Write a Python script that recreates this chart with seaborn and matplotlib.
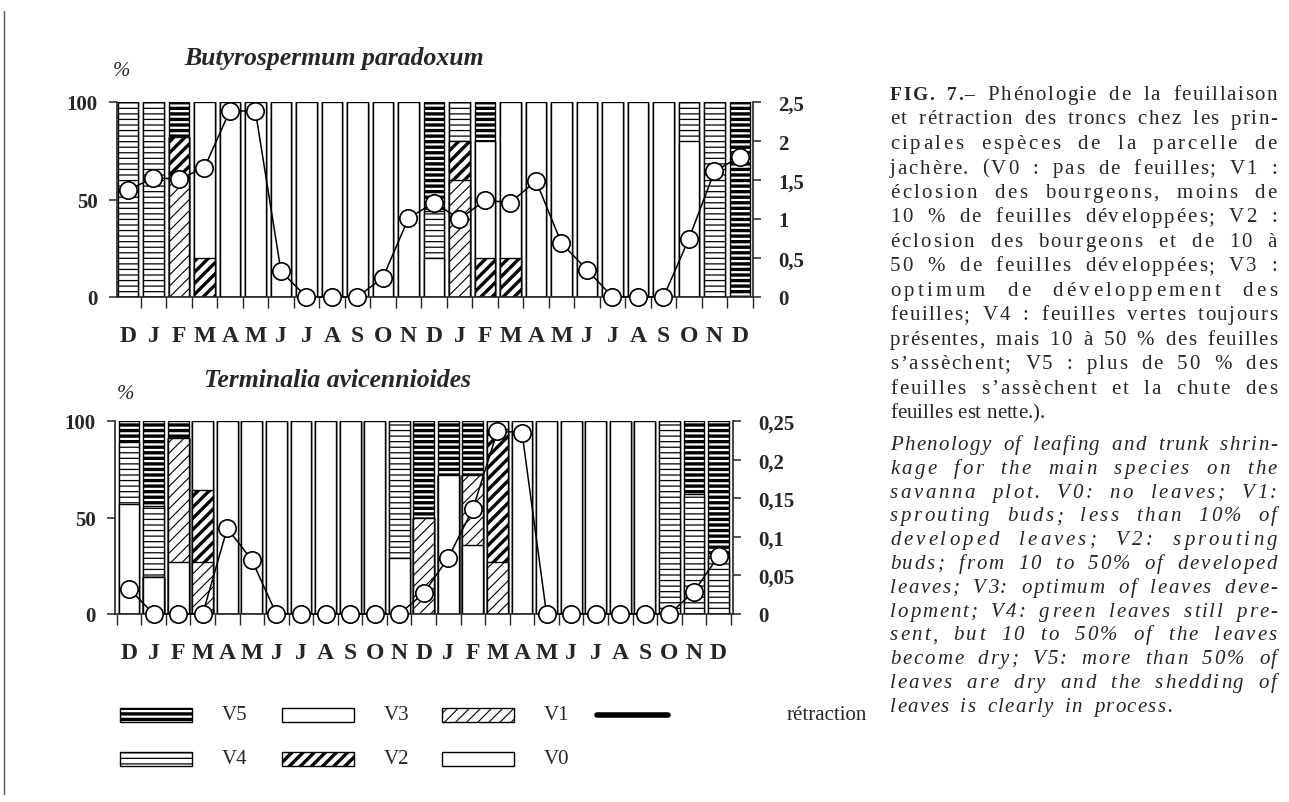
import numpy as np
import pandas as pd
import matplotlib
matplotlib.use("Agg")
import matplotlib.pyplot as plt
import matplotlib.patches as mpatches
from matplotlib.lines import Line2D
from matplotlib.font_manager import FontProperties
import seaborn as sns

sns.set_style("ticks")
plt.rcParams['font.family'] = ['Liberation Serif', 'DejaVu Serif']

# ---------------- data ----------------
months = ["D", "J", "F", "M", "A", "M", "J", "J", "A", "S", "O", "N",
          "D", "J", "F", "M", "A", "M", "J", "J", "A", "S", "O", "N", "D"]

# Butyrospermum paradoxum : % per phenological stage (stacked V0 -> V5)
b_v0 = [0, 0, 0, 0, 0, 0, 0, 0, 0, 0, 0, 0, 0, 0, 0, 0, 0, 0, 0, 0, 0, 0, 0, 0, 0]
b_v1 = [0, 0, 60, 0, 0, 0, 0, 0, 0, 0, 0, 0, 0, 60, 0, 0, 0, 0, 0, 0, 0, 0, 0, 0, 0]
b_v2 = [0, 0, 22, 20, 0, 0, 0, 0, 0, 0, 0, 0, 0, 20, 20, 20, 0, 0, 0, 0, 0, 0, 0, 0, 0]
b_v3 = [0, 0, 0, 80, 100, 100, 100, 100, 100, 100, 100, 100, 20, 0, 60, 80, 100, 100, 100, 100, 100, 100, 80, 0, 0]
b_v4 = [100, 100, 0, 0, 0, 0, 0, 0, 0, 0, 0, 0, 24, 20, 0, 0, 0, 0, 0, 0, 0, 0, 20, 100, 0]
b_v5 = [0, 0, 18, 0, 0, 0, 0, 0, 0, 0, 0, 0, 56, 0, 20, 0, 0, 0, 0, 0, 0, 0, 0, 0, 100]
b_retraction = [1.37, 1.53, 1.51, 1.66, 2.39, 2.38, 0.33, 0.0, 0.0, 0.0, 0.25, 1.01, 1.21,
                1.0, 1.24, 1.21, 1.49, 0.69, 0.35, 0.0, 0.0, 0.0, 0.75, 1.61, 1.80]

# Terminalia avicennioides
t_v0 = [0, 19, 27, 0, 0, 0, 0, 0, 0, 0, 0, 0, 0, 72, 36, 0, 0, 0, 0, 0, 0, 0, 0, 0, 0]
t_v1 = [0, 0, 64, 27, 0, 0, 0, 0, 0, 0, 0, 0, 50, 0, 36, 27, 0, 0, 0, 0, 0, 0, 0, 0, 0]
t_v2 = [0, 0, 0, 37, 0, 0, 0, 0, 0, 0, 0, 0, 0, 0, 0, 69, 0, 0, 0, 0, 0, 0, 0, 0, 0]
t_v3 = [57, 0, 0, 36, 100, 100, 100, 100, 100, 100, 100, 29, 0, 0, 0, 4, 100, 100, 100, 100, 100, 100, 0, 0, 0]
t_v4 = [32, 37, 0, 0, 0, 0, 0, 0, 0, 0, 0, 71, 0, 0, 0, 0, 0, 0, 0, 0, 0, 0, 100, 62, 30]
t_v5 = [11, 44, 9, 0, 0, 0, 0, 0, 0, 0, 0, 0, 50, 28, 28, 0, 0, 0, 0, 0, 0, 0, 0, 38, 70]
t_retraction = [0.033, 0.0, 0.0, 0.0, 0.111, 0.070, 0.0, 0.0, 0.0, 0.0, 0.0, 0.0, 0.027,
                0.073, 0.136, 0.237, 0.235, 0.0, 0.0, 0.0, 0.0, 0.0, 0.0, 0.029, 0.075]

stage_names = ["V0", "V1", "V2", "V3", "V4", "V5"]
left_ticks = [0, 50, 100]
b_right_ticks = [0, 0.5, 1, 1.5, 2, 2.5]
b_right_labels = ["0", "0,5", "1", "1,5", "2", "2,5"]
t_right_ticks = [0, 0.05, 0.1, 0.15, 0.2, 0.25]
t_right_labels = ["0", "0,05", "0,1", "0,15", "0,2", "0,25"]

# ---------------- style ----------------
HATCH = {"V0": "", "V1": "///", "V2": "///", "V3": "", "V4": "---", "V5": "---"}
HLW = {"V0": 1.0, "V1": 0.8, "V2": 2.4, "V3": 1.0, "V4": 0.9, "V5": 2.4}

W, H = 1289, 803
fig = plt.figure(figsize=(W / 100, H / 100), dpi=100)


def rect(l, r, t, b):
    return [l / W, 1 - b / H, (r - l) / W, (b - t) / H]


def panel(ax, layers, retr, rticks, rlabels, rmax, width, xlim):
    arr = np.array(layers, dtype=float)
    cum = np.cumsum(arr, axis=0)
    for k in range(5, -1, -1):
        name = stage_names[k]
        df = pd.DataFrame({"x": np.arange(25), "y": cum[k]})
        with plt.rc_context({"hatch.linewidth": HLW[name], "hatch.color": "black"}):
            sns.barplot(data=df, x="x", y="y", color="white", saturation=1,
                        edgecolor="black", linewidth=1.0, hatch=HATCH[name],
                        width=width, errorbar=None, ax=ax)
    ax.set_ylim(0, 100)
    ax.set_xlim(*xlim)
    ax.set_xlabel("")
    ax.set_ylabel("")
    ax.set_yticks(left_ticks)
    ax.set_yticklabels([str(v) for v in left_ticks], fontsize=15, fontweight="bold")
    ax.tick_params(axis="y", direction="out", length=6, width=1.1, pad=8)
    ax.set_xticks(np.arange(25))
    ax.set_xticklabels(months, fontsize=17, fontweight="bold")
    ax.tick_params(axis="x", which="major", length=0, pad=20)
    ax.set_xticks(np.arange(-0.5, 25, 1), minor=True)
    ax.tick_params(axis="x", which="minor", direction="out", length=8, width=1.0)
    for s in ["top", "right"]:
        ax.spines[s].set_visible(False)
    for s in ["left", "bottom"]:
        ax.spines[s].set_linewidth(1.2)

    axr = ax.twinx()
    sns.lineplot(x=np.arange(25), y=retr, ax=axr, color="black", linewidth=1.1,
                 marker="o", markersize=12.5, markerfacecolor="white",
                 markeredgecolor="black", markeredgewidth=1.2, clip_on=False,
                 legend=False)
    axr.set_ylim(0, rmax)
    axr.set_xlim(*xlim)
    axr.set_ylabel("")
    axr.set_yticks(rticks)
    axr.set_yticklabels(rlabels, fontsize=15, fontweight="bold")
    axr.tick_params(axis="y", direction="out", length=6, width=1.1, pad=12)
    for s in ["top", "left", "bottom"]:
        axr.spines[s].set_visible(False)
    axr.spines["right"].set_linewidth(1.2)
    return axr


ax1 = fig.add_axes(rect(117, 753, 103, 298))
panel(ax1, [b_v0, b_v1, b_v2, b_v3, b_v4, b_v5], b_retraction,
      b_right_ticks, b_right_labels, 2.5, 0.8, (-0.43, 24.51))

ax2 = fig.add_axes(rect(115, 733, 422, 615))
panel(ax2, [t_v0, t_v1, t_v2, t_v3, t_v4, t_v5], t_retraction,
      t_right_ticks, t_right_labels, 0.25, 0.85, (-0.57, 24.59))

# titles
fig.text(334 / W, 1 - 59 / H, "Butyrospermum paradoxum", ha="center", va="center",
         fontsize=18.5, fontweight="bold", style="italic")
fig.text(121 / W, 1 - 72 / H, "%", ha="center", va="center", fontsize=15, style="italic")
fig.text(337 / W, 1 - 381 / H, "Terminalia avicennioides", ha="center", va="center",
         fontsize=18.5, fontweight="bold", style="italic")
fig.text(125 / W, 1 - 395 / H, "%", ha="center", va="center", fontsize=15, style="italic")

# ---------------- legend (overlay axes in pixel coords) ----------------
lax = fig.add_axes([0, 0, 1, 1], facecolor="none")
lax.set_xlim(0, W)
lax.set_ylim(H, 0)
lax.axis("off")

leg_items = [("V5", 120, 716), ("V4", 120, 760), ("V3", 282, 716), ("V2", 282, 760),
             ("V1", 442, 716), ("V0", 442, 760)]
for name, x0, yc in leg_items:
    with plt.rc_context({"hatch.linewidth": HLW[name]}):
        p = mpatches.Rectangle((x0, yc - 7), 72, 14, facecolor="white", edgecolor="black",
                               linewidth=1.0, hatch=HATCH[name])
    lax.add_patch(p)
    lax.text(x0 + 102, yc, name, ha="left", va="center", fontsize=15)
lax.add_line(Line2D([597, 668], [716, 716], color="black", linewidth=4))
lax.text(787, 716, "rétraction", ha="left", va="center", fontsize=15)
lax.add_line(Line2D([4, 4], [12, 795], color="#555555", linewidth=1.0))

# ---------------- justified caption (lightly letter-spaced) ----------------
fr_lines = [
    "FIG. 7.– Phénologie de la feuillaison",
    "et rétraction des troncs chez les prin-",
    "cipales espèces de la parcelle de",
    "jachère. (V0 : pas de feuilles; V1 :",
    "éclosion des bourgeons, moins de",
    "10 % de feuilles développées; V2 :",
    "éclosion des bourgeons et de 10 à",
    "50 % de feuilles développées; V3 :",
    "optimum de développement des",
    "feuilles; V4 : feuilles vertes toujours",
    "présentes, mais 10 à 50 % des feuilles",
    "s’assèchent; V5 : plus de 50 % des",
    "feuilles s’assèchent et la chute des",
    "feuilles est nette.).",
]
en_lines = [
    "Phenology of leafing and trunk shrin-",
    "kage for the main species on the",
    "savanna plot. V0: no leaves; V1:",
    "sprouting buds; less than 10% of",
    "developed leaves; V2: sprouting",
    "buds; from 10 to 50% of developed",
    "leaves; V3: optimum of leaves deve-",
    "lopment; V4: green leaves still pre-",
    "sent, but 10 to 50% of the leaves",
    "become dry; V5: more than 50% of",
    "leaves are dry and the shedding of",
    "leaves is clearly in process.",
]

renderer = fig.canvas.get_renderer()
CAP_L, CAP_R = 890, 1277
_cache = {}


def adv(ch, prop):
    key = (ch, prop.get_style(), prop.get_weight(), prop.get_size())
    if key not in _cache:
        w1 = renderer.get_text_width_height_descent("|" + ch + "|", prop, ismath=False)[0]
        w0 = renderer.get_text_width_height_descent("||", prop, ismath=False)[0]
        _cache[key] = w1 - w0
    return _cache[key]


def put_line(line, yc, style, size, right, bold_n=0, space_w=4.0):
    pn = FontProperties(family=["Liberation Serif"], style=style, weight="normal", size=size)
    pb = FontProperties(family=["Liberation Serif"], style=style, weight="bold", size=size - 1)
    props = [pb if i < bold_n else pn for i in range(len(line))]
    advs = [adv(c, p) for c, p in zip(line, props)]
    natural = sum(advs[:-1]) + renderer.get_text_width_height_descent(line[-1], props[-1], False)[0]
    units = [(space_w if line[i] == " " else 1.0) for i in range(len(line) - 1)]
    extra = max(0.0, (right - CAP_L) - natural) / sum(units)
    x = CAP_L
    for i, (c, p, a) in enumerate(zip(line, props, advs)):
        if c != " ":
            lax.text(x, yc + 5, c, ha="left", va="baseline", fontproperties=p)
        if i < len(line) - 1:
            x += a + extra * units[i]


for i, ln in enumerate(fr_lines):
    last = i == len(fr_lines) - 1
    put_line(ln, 95 + i * 24.5, "normal", 15, 1045 if last else CAP_R,
             bold_n=8 if i == 0 else 0)
for i, ln in enumerate(en_lines):
    last = i == len(en_lines) - 1
    put_line(ln, 445 + i * 23.8, "italic", 15, 1172 if last else CAP_R)

fig.savefig("out.png", dpi=100)
